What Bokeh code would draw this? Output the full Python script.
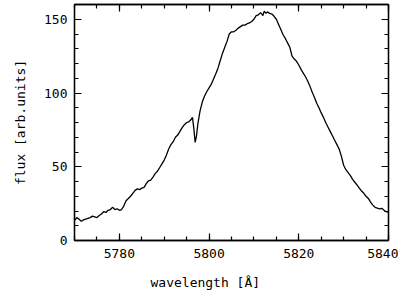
from bokeh.plotting import figure
from bokeh.models import LinearAxis, Range1d, Title, SingleIntervalTicker
from bokeh.embed import file_html
from bokeh.resources import INLINE

wavelength = [5770.0, 5770.5, 5771.0, 5771.5, 5772.0, 5772.5, 5773.0, 5773.5, 5774.0, 5774.5,
              5775.0, 5775.5, 5776.0, 5776.5, 5777.0, 5777.5, 5778.0, 5778.5, 5779.0, 5779.5,
              5780.0, 5780.5, 5781.0, 5781.5, 5782.0, 5782.5, 5783.0, 5783.5, 5784.0, 5784.5,
              5785.0, 5785.5, 5786.0, 5786.5, 5787.0, 5787.5, 5788.0, 5788.5, 5789.0, 5789.5,
              5790.0, 5790.5, 5791.0, 5791.5, 5792.0, 5792.5, 5793.0, 5793.5, 5794.0, 5794.5,
              5795.0, 5795.5, 5796.0, 5796.3, 5796.6, 5796.9, 5797.2, 5797.5, 5798.0, 5798.5,
              5799.0, 5799.5, 5800.0, 5800.5, 5801.0, 5801.5, 5802.0, 5802.5, 5803.0, 5803.5,
              5804.0, 5804.5, 5805.0, 5805.5, 5806.0, 5806.5, 5807.0, 5807.5, 5808.0, 5808.5,
              5809.0, 5809.5, 5810.0, 5810.5, 5811.0, 5811.5, 5812.0, 5812.3, 5812.7, 5813.0,
              5813.5, 5814.0, 5814.5, 5815.0, 5815.5, 5816.0, 5816.5, 5817.0, 5817.5, 5818.0,
              5818.5, 5819.0, 5819.5, 5820.0, 5820.5, 5821.0, 5821.5, 5822.0, 5822.5, 5823.0,
              5823.5, 5824.0, 5824.5, 5825.0, 5825.5, 5826.0, 5826.5, 5827.0, 5827.5, 5828.0,
              5828.5, 5829.0, 5829.5, 5830.0, 5830.5, 5831.0, 5831.5, 5832.0, 5832.5, 5833.0,
              5833.5, 5834.0, 5834.5, 5835.0, 5835.5, 5836.0, 5836.5, 5837.0, 5837.5, 5838.0,
              5838.5, 5839.0, 5839.5, 5840.0]
flux = [13.5, 15.5, 14.5, 13.0, 14.0, 14.5, 15.0, 15.5, 16.5, 16.0,
        15.5, 17.0, 18.0, 19.5, 19.0, 20.5, 21.0, 22.5, 21.0, 21.5,
        20.5, 21.0, 23.5, 27.0, 28.5, 30.0, 32.0, 34.0, 35.0, 34.5,
        35.5, 36.0, 38.5, 40.5, 41.0, 43.0, 45.5, 47.0, 49.5, 52.0,
        54.5, 58.0, 62.0, 65.0, 67.0, 70.0, 71.5, 74.0, 76.5, 78.5,
        80.0, 80.5, 82.0, 83.5, 76.0, 66.5, 71.0, 79.0, 88.0, 94.0,
        98.0, 101.0, 103.5, 106.0, 109.5, 113.0, 117.0, 122.0, 127.0, 131.0,
        135.0, 140.0, 141.5, 141.5, 142.5, 144.0, 145.0, 146.0, 146.0, 147.0,
        147.5, 148.5, 150.0, 152.5, 153.0, 154.5, 152.5, 155.5, 154.0, 155.0,
        154.0, 153.5, 152.0, 150.0, 146.5, 143.0, 139.5, 137.0, 134.0, 131.0,
        125.0, 123.0, 121.5, 119.0, 116.0, 113.5, 111.0, 108.0, 104.5, 100.5,
        97.0, 93.0, 90.0, 86.5, 83.5, 80.0, 77.0, 74.0, 71.0, 68.0,
        65.0, 62.0, 57.0, 51.0, 48.0, 46.0, 44.0, 41.5, 39.5, 37.5,
        35.5, 33.5, 32.0, 30.0, 28.5, 26.0, 24.0, 22.5, 22.0, 21.5,
        21.8, 20.5, 19.5, 19.5]

x_label = "wavelength [Å]"
y_label = "flux [arb.units]"
FONT = "DejaVu Sans Mono"

p = figure(width=398, height=301, output_backend="svg", toolbar_location=None,
           x_range=Range1d(5770, 5840), y_range=Range1d(0, 160),
           x_axis_location=None, y_axis_location=None,
           min_border_left=74, min_border_right=10, min_border_top=4, min_border_bottom=61)
p.grid.visible = False
p.outline_line_color = "black"
p.outline_line_width = 1.3
p.background_fill_color = "white"
p.border_fill_color = "white"

def style_axis(ax, show_labels):
    ax.axis_line_color = "black"
    ax.axis_line_width = 1.3
    ax.major_tick_in = 7
    ax.major_tick_out = 0
    ax.minor_tick_in = 4
    ax.minor_tick_out = 0
    ax.major_tick_line_width = 1.2
    ax.minor_tick_line_width = 1.2
    ax.major_label_text_font = FONT
    if show_labels:
        ax.major_label_text_font_size = "13px"
        ax.major_label_text_color = "black"
    else:
        ax.major_label_text_font_size = "1px"
        ax.major_label_text_color = None
        ax.major_label_standoff = 0
    ax.axis_label_text_font = FONT
    ax.axis_label_text_font_size = "13px"
    ax.axis_label_text_font_style = "normal"
    ax.axis_label_text_color = "black"

xt = dict(interval=20, num_minor_ticks=4)
yt = dict(interval=50, num_minor_ticks=5)

bottom = LinearAxis(ticker=SingleIntervalTicker(**xt))
style_axis(bottom, True)
bottom.major_label_standoff = 8
top = LinearAxis(ticker=SingleIntervalTicker(**xt))
style_axis(top, False)
left = LinearAxis(ticker=SingleIntervalTicker(**yt), axis_label=y_label)
style_axis(left, True)
left.major_label_standoff = 7
left.axis_label_standoff = 13
right = LinearAxis(ticker=SingleIntervalTicker(**yt))
style_axis(right, False)

p.add_layout(bottom, "below")
p.add_layout(top, "above")
p.add_layout(left, "left")
p.add_layout(right, "right")

p.line(wavelength, flux, line_color="black", line_width=1.3)

xt_title = Title(text=x_label, align="left", offset=76, standoff=24,
                 text_font=FONT, text_font_size="13px", text_font_style="normal",
                 text_color="black")
p.add_layout(xt_title, "below")

open("out.html", "w").write(file_html(p, INLINE))
